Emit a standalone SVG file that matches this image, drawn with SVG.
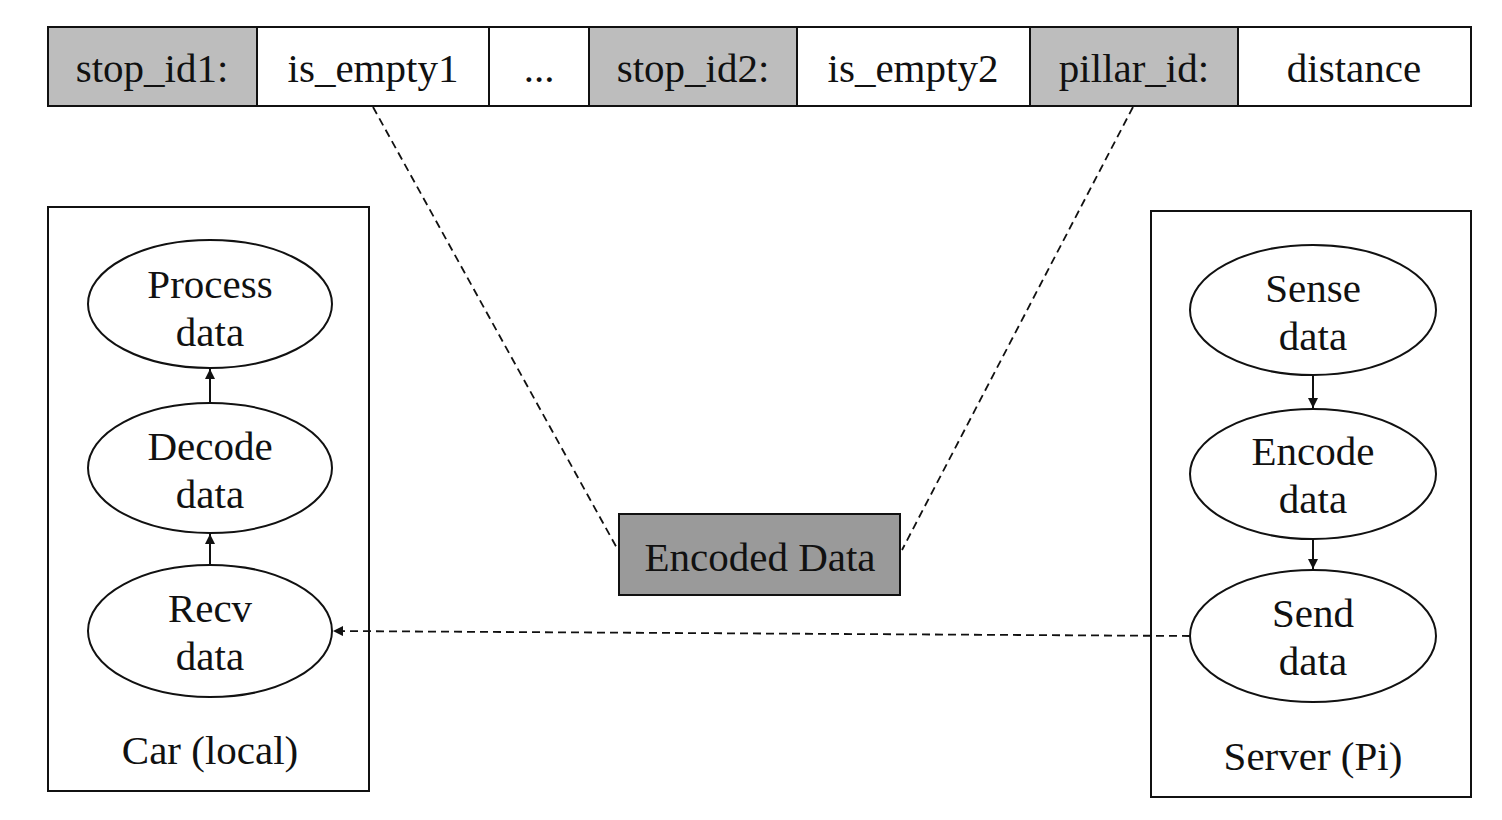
<svg xmlns="http://www.w3.org/2000/svg" width="1502" height="820" viewBox="0 0 1502 820">
<style>
text{font-family:"Liberation Serif","Times New Roman",serif;font-size:41px;fill:#111;text-anchor:middle}
.cell{stroke:#111;stroke-width:2}
.g{fill:#bdbdbd}
.w{fill:#fff}
.box{fill:#fff;stroke:#111;stroke-width:2}
.ell{fill:#fff;stroke:#111;stroke-width:2}
.solid{stroke:#111;stroke-width:2;fill:none}
.dash{stroke:#111;stroke-width:1.8;fill:none;stroke-dasharray:8 5}
</style>
<defs>
<marker id="ah" viewBox="0 0 10 10" refX="10" refY="5" markerWidth="12" markerHeight="10" markerUnits="userSpaceOnUse" orient="auto">
<path d="M0,0 L10,5 L0,10 z" fill="#111"/>
</marker>
<marker id="ah2" viewBox="0 0 10 10" refX="10" refY="5" markerWidth="13" markerHeight="10" markerUnits="userSpaceOnUse" orient="auto">
<path d="M0,0 L10,5 L0,10 z" fill="#111"/>
</marker>
</defs>
<rect width="1502" height="820" fill="#fff"/>

<g id="record">
<rect class="cell g" x="48" y="27" width="209" height="79"/>
<rect class="cell w" x="257" y="27" width="232" height="79"/>
<rect class="cell w" x="489" y="27" width="100" height="79"/>
<rect class="cell g" x="589" y="27" width="208" height="79"/>
<rect class="cell w" x="797" y="27" width="233" height="79"/>
<rect class="cell g" x="1030" y="27" width="208" height="79"/>
<rect class="cell w" x="1238" y="27" width="233" height="79"/>
<text x="152" y="82">stop_id1:</text>
<text x="373" y="82">is_empty1</text>
<text x="539" y="82">...</text>
<text x="693" y="82">stop_id2:</text>
<text x="913" y="82">is_empty2</text>
<text x="1134" y="82">pillar_id:</text>
<text x="1354" y="82">distance</text>
</g>

<g id="car">
<rect class="box" x="48" y="207" width="321" height="584"/>
<text x="210" y="764">Car (local)</text>
</g>
<g id="process">
<ellipse class="ell" cx="210" cy="304" rx="122" ry="64"/>
<text x="210" y="298">Process</text>
<text x="210" y="346">data</text>
</g>
<g id="decode">
<ellipse class="ell" cx="210" cy="468" rx="122" ry="65"/>
<text x="210" y="460">Decode</text>
<text x="210" y="508">data</text>
</g>
<g id="recv">
<ellipse class="ell" cx="210" cy="631" rx="122" ry="66"/>
<text x="210" y="622">Recv</text>
<text x="210" y="670">data</text>
</g>

<g id="server">
<rect class="box" x="1151" y="211" width="320" height="586"/>
<text x="1313" y="770">Server (Pi)</text>
</g>
<g id="sense">
<ellipse class="ell" cx="1313" cy="310" rx="123" ry="65"/>
<text x="1313" y="302">Sense</text>
<text x="1313" y="350">data</text>
</g>
<g id="encode">
<ellipse class="ell" cx="1313" cy="474" rx="123" ry="65"/>
<text x="1313" y="465">Encode</text>
<text x="1313" y="513">data</text>
</g>
<g id="send">
<ellipse class="ell" cx="1313" cy="636" rx="123" ry="66"/>
<text x="1313" y="627">Send</text>
<text x="1313" y="675">data</text>
</g>

<g id="encoded">
<rect x="619" y="514" width="281" height="81" fill="#9a9a9a" stroke="#111" stroke-width="2"/>
<text x="760" y="571">Encoded Data</text>
</g>

<g id="connectors">
<line class="solid" x1="210" y1="403" x2="210" y2="369" marker-end="url(#ah)"/>
<line class="solid" x1="210" y1="565" x2="210" y2="534" marker-end="url(#ah)"/>
<line class="solid" x1="1313" y1="375" x2="1313" y2="408" marker-end="url(#ah)"/>
<line class="solid" x1="1313" y1="539" x2="1313" y2="569" marker-end="url(#ah)"/>
<line class="dash" x1="1190" y1="636" x2="333" y2="631" marker-end="url(#ah2)"/>
<line class="dash" x1="373" y1="107" x2="618" y2="550"/>
<line class="dash" x1="1133" y1="107" x2="902" y2="550"/>
</g>
</svg>
